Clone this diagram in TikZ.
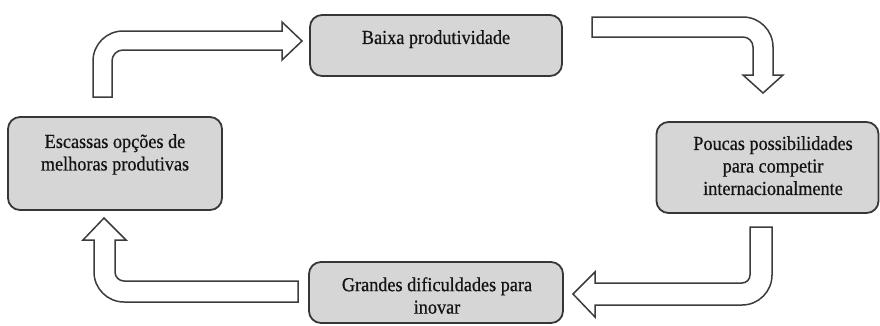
\documentclass[tikz,border=0pt]{standalone}
\usepackage{fontspec}
\setmainfont{Liberation Serif}[FakeStretch=0.92,FakeBold=0.6]
\definecolor{boxfill}{RGB}{214,214,214}
\definecolor{boxline}{RGB}{55,55,55}
\definecolor{arrline}{RGB}{60,60,60}
\definecolor{txtcol}{RGB}{20,20,20}
\tikzset{
  stagebox/.style={draw=boxline, fill=boxfill, line width=1.8pt, rounded corners=12pt, inner sep=0pt},
  stagetext/.style={anchor=north, align=center, inner sep=0pt, text=txtcol, font=\fontsize{19.8}{22.5}\selectfont},
  blockarrow/.style={draw=arrline, fill=white, line width=1.5pt, line join=miter}
}
\begin{document}
\begin{tikzpicture}[x=1pt,y=-1pt]
\useasboundingbox (0,0) rectangle (880,325);
% boxes
\node[stagebox, minimum width=252pt, minimum height=61pt] (baixa) at (436,45.5) {};
\node[stagebox, minimum width=214pt, minimum height=93pt] (esc) at (115,163.5) {};
\node[stagebox, minimum width=222pt, minimum height=91pt] (pouc) at (767.5,167.5) {};
\node[stagebox, minimum width=254pt, minimum height=61pt] (gran) at (436,292.5) {};
% texts
\node[stagetext] (baixaT) at (436,30) {Baixa produtividade};
\node[stagetext] (escT) at (115,134) {Escassas opções de\\melhoras produtivas};
\node[stagetext] (poucT) at (773,136) {Poucas possibilidades\\para competir\\internacionalmente};
\node[stagetext] (granT) at (437,277) {Grandes dificuldades para\\inovar};
% block arrows
\draw[blockarrow] (93,97) [rounded corners=30pt] -- (93,31) [sharp corners] -- (282,31) -- (282,22) -- (302,41) -- (282,60) -- (282,50) [rounded corners=11pt] -- (112,50) [sharp corners] -- (112,97) -- cycle;
\draw[blockarrow] (592,17) [rounded corners=30pt] -- (773,17) [sharp corners] -- (773,75) -- (783,75) -- (763,93) -- (743,75) -- (753,75) [rounded corners=10pt] -- (753,37) [sharp corners] -- (592,37) -- cycle;
\draw[blockarrow] (750,227) -- (772,227) [rounded corners=30pt] -- (772,305) [sharp corners] -- (595,305) -- (595,317) -- (573,294) -- (595,272) -- (595,283) [rounded corners=8pt] -- (750,283) [sharp corners] -- cycle;
\draw[blockarrow] (298,281) -- (298,302) [rounded corners=30pt] -- (94,302) [sharp corners] -- (94,240) -- (83,240) -- (104,218) -- (126,240) -- (115,240) [rounded corners=9pt] -- (115,281) [sharp corners] -- cycle;
\end{tikzpicture}
\end{document}
